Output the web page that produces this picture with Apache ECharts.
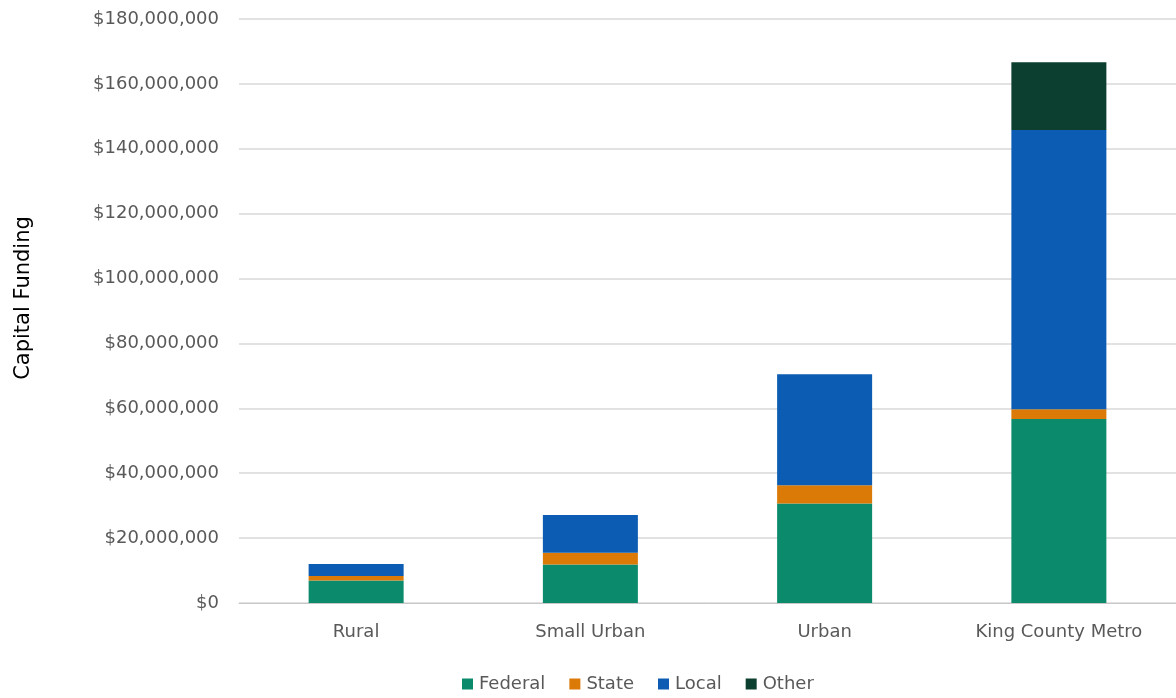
<!DOCTYPE html>
<html><head><meta charset="utf-8">
<script src="https://cdn.jsdelivr.net/npm/echarts@6/dist/echarts.min.js"></script>
<style>html,body{margin:0;padding:0;background:#fff}#c{width:1176px;height:698px}</style>
</head><body><div id="c"></div>
<script>
const categories = ['Rural', 'Small Urban', 'Urban', 'King County Metro'];
const federal = [6.9e6, 11.9e6, 30.7e6, 56.7e6];
const state = [1.4e6, 3.6e6, 5.6e6, 3.0e6];
const local = [3.7e6, 11.6e6, 34.2e6, 86.1e6];
const other = [0, 0, 0, 20.9e6];
const seriesNames = ['Federal', 'State', 'Local', 'Other'];
const colors = ['#0b8a6c', '#db7a06', '#0b5cb2', '#0c3f30'];
const yTitle = 'Capital Funding';

const chart = echarts.init(document.getElementById('c'));
const font = '"DejaVu Sans", sans-serif';
const mk = (name, data, i) => ({
  name, type: 'bar', stack: 'a', data, barWidth: 95,
  itemStyle: { color: colors[i] }
});
chart.setOption({
  animation: false,
  legend: {
    top: 670, left: 457, itemWidth: 11, itemHeight: 11, itemGap: 24,
    icon: 'rect',
    textStyle: { color: '#595959', fontSize: 18, fontFamily: font, padding: [0, 0, 0, 1] },
    data: seriesNames
  },
  graphic: [{
    type: 'text', x: 24, y: 298, rotation: Math.PI / 2,
    style: { text: yTitle, fill: '#000', font: '21px "DejaVu Sans", sans-serif',
             align: 'center', verticalAlign: 'middle' }
  }],
  grid: { left: 239, right: -6, top: 19, bottom: 95, containLabel: false },
  xAxis: {
    type: 'category', data: categories,
    axisLine: { lineStyle: { color: '#c8c8c8' } },
    axisTick: { show: false },
    axisLabel: { color: '#595959', fontSize: 18, fontFamily: font, margin: 20 }
  },
  yAxis: {
    type: 'value', min: 0, max: 180e6, interval: 20e6,
    axisLine: { show: false }, axisTick: { show: false },
    splitLine: { lineStyle: { color: '#d9d9d9', width: 1.5 } },
    axisLabel: {
      color: '#595959', fontSize: 18, fontFamily: font, margin: 20,
      formatter: v => '$' + v.toLocaleString('en-US')
    }
  },
  series: [mk('Federal', federal, 0), mk('State', state, 1), mk('Local', local, 2), mk('Other', other, 3)]
});
</script></body></html>
